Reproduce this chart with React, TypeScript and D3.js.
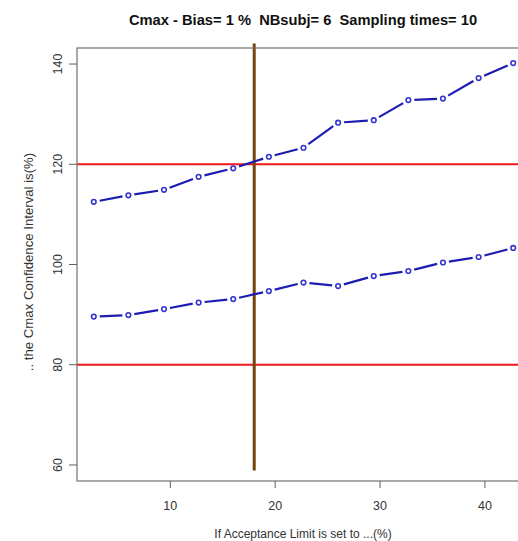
import React from "react";
import * as d3 from "d3";

// Acceptance limits (%) tested
const limits = [2.7, 6.0, 9.4, 12.7, 16.0, 19.4, 22.7, 26.0, 29.4, 32.7, 36.0, 39.4, 42.7];
// Upper and lower bounds of the Cmax confidence interval (%)
const upperCI = [112.5, 113.8, 114.9, 117.5, 119.2, 121.5, 123.3, 128.3, 128.8, 132.8, 133.1, 137.2, 140.2];
const lowerCI = [89.6, 89.9, 91.1, 92.4, 93.1, 94.7, 96.4, 95.7, 97.7, 98.7, 100.4, 101.5, 103.3];
// Bioequivalence bounds and selected limit
const boundaries = [80, 120];
const selectedLimit = 18;
const xTicks = [10, 20, 30, 40];
const yTicks = [60, 80, 100, 120, 140];

const W = 518;
const H = 541;
const left = 77;
const right = 530;
const top = 48;
const bottom = 481;

export default function App() {
  const x = d3.scaleLinear().domain([1.1, 44.3]).range([left, right]);
  const y = d3.scaleLinear().domain([56.8, 143.2]).range([bottom, top]);
  const font = "'Liberation Sans', Arial, sans-serif";

  const series = (vals: number[], key: string) => {
    const pts = limits.map((l, i) => [x(l), y(vals[i])] as [number, number]);
    const gap = 6;
    const segs = [];
    for (let i = 0; i < pts.length - 1; i++) {
      const [x1, y1] = pts[i];
      const [x2, y2] = pts[i + 1];
      const len = Math.hypot(x2 - x1, y2 - y1);
      if (len <= 2 * gap) continue;
      const ux = (x2 - x1) / len;
      const uy = (y2 - y1) / len;
      segs.push(
        <line
          key={`${key}-s${i}`}
          x1={x1 + ux * gap}
          y1={y1 + uy * gap}
          x2={x2 - ux * gap}
          y2={y2 - uy * gap}
          stroke="#1c1cb0"
          strokeWidth={2.2}
        />
      );
    }
    return (
      <g key={key}>
        {segs}
        {pts.map(([px, py], i) => (
          <circle key={`${key}-p${i}`} cx={px} cy={py} r={2.3} fill="none" stroke="#3535d0" strokeWidth={1.6} />
        ))}
      </g>
    );
  };

  return (
    <svg
      width={W}
      height={H}
      style={{ position: "absolute", left: 0, top: 0, background: "#fff" }}
      fontFamily={font}
    >
      <rect x={0} y={0} width={W} height={H} fill="#fff" />
      <text
        x={303}
        y={25}
        textAnchor="middle"
        fontSize={14.7}
        fontWeight="bold"
        fill="#111"
        style={{ whiteSpace: "pre" }}
      >
        {"Cmax - Bias= 1 %  NBsubj= 6  Sampling times= 10"}
      </text>

      {/* reference bounds */}
      {boundaries.map((b) => (
        <line key={b} x1={left} x2={right} y1={y(b)} y2={y(b)} stroke="#f01818" strokeWidth={2} />
      ))}

      {/* chosen acceptance limit */}
      <line
        x1={x(selectedLimit)}
        x2={x(selectedLimit)}
        y1={y(144.1)}
        y2={y(58.9)}
        stroke="#74440e"
        strokeWidth={3}
      />

      {series(upperCI, "upper")}
      {series(lowerCI, "lower")}

      {/* plot frame */}
      <rect x={left} y={top} width={right - left} height={bottom - top} fill="none" stroke="#707070" strokeWidth={1.2} />

      {/* x axis */}
      {xTicks.map((t) => (
        <g key={t}>
          <line x1={x(t)} x2={x(t)} y1={bottom} y2={bottom + 7} stroke="#606060" strokeWidth={1} />
          <text x={x(t)} y={510} textAnchor="middle" fontSize={12.5} fill="#333">
            {t}
          </text>
        </g>
      ))}
      <text x={303} y={538} textAnchor="middle" fontSize={12} fill="#333">
        If Acceptance Limit is set to ...(%)
      </text>

      {/* y axis */}
      {yTicks.map((t) => (
        <g key={t}>
          <line x1={left - 8} x2={left} y1={y(t)} y2={y(t)} stroke="#606060" strokeWidth={1} />
          <text
            transform={`translate(62,${y(t)}) rotate(-90)`}
            textAnchor="middle"
            fontSize={12.5}
            fill="#333"
          >
            {t}
          </text>
        </g>
      ))}
      <text
        transform={`translate(33,262) rotate(-90)`}
        textAnchor="middle"
        fontSize={13.2}
        fill="#333"
      >
        .. the Cmax Confidence Interval is(%)
      </text>
    </svg>
  );
}
